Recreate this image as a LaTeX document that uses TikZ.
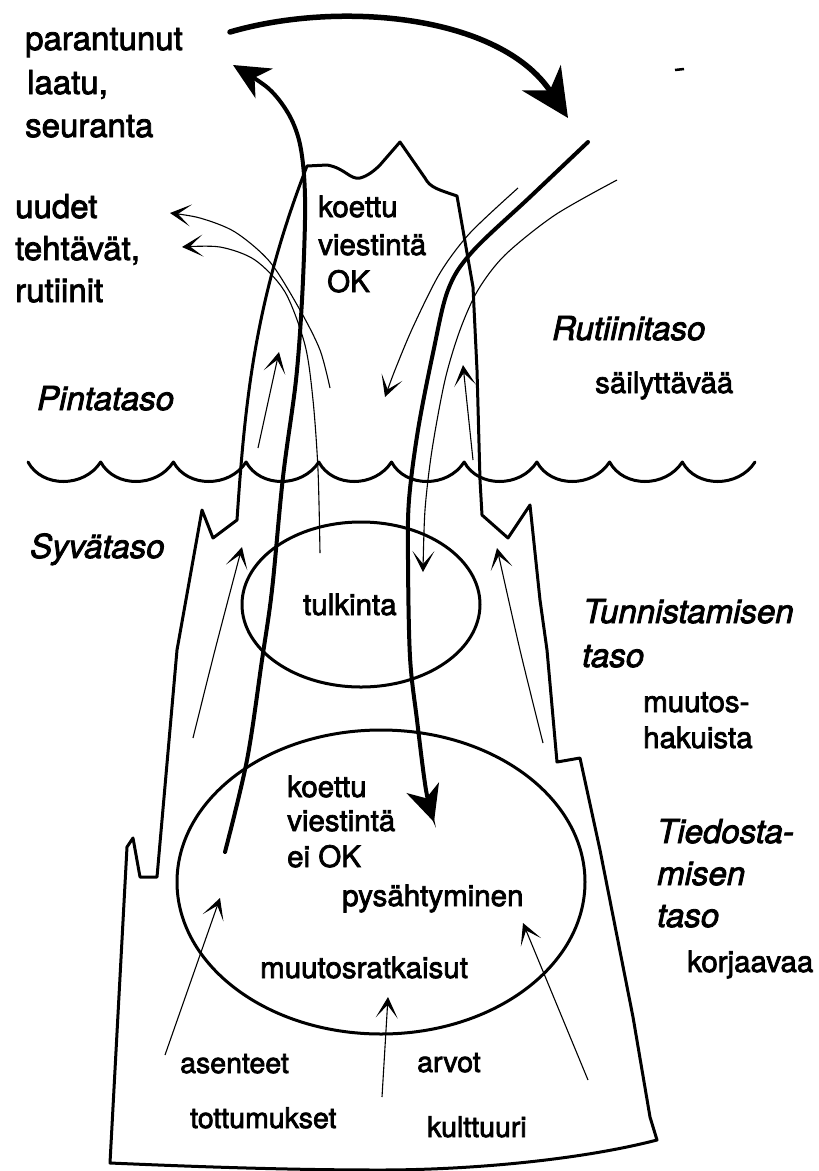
\documentclass[tikz,border=0pt]{standalone}
\usepackage{fontspec}
\setmainfont{TeX Gyre Heros}[UprightFeatures={FakeBold=2.5},ItalicFeatures={FakeBold=2.5}]
\usetikzlibrary{arrows.meta}
\begin{document}
\begin{tikzpicture}[x=1pt,y=-1pt,
  outline/.style={line width=3pt, line join=round, line cap=round},
  thinarr/.style={line width=1.1pt, -{Stealth[length=21pt,width=22pt,inset=13pt]}},
  thickarr/.style={line width=4pt, line cap=round, -{Stealth[length=36pt,width=34pt,inset=11pt]}},
  lbl/.style={inner sep=0pt, anchor=base west, font=\fontsize{33}{40}\selectfont},
  ilbl/.style={inner sep=0pt, anchor=base west, font=\fontsize{33}{40}\selectfont\itshape},
  mlbl/.style={inner sep=0pt, anchor=base west, font=\fontsize{29.5}{36}\selectfont},
  slbl/.style={inner sep=0pt, anchor=base west, font=\fontsize{28.5}{34}\selectfont}]
\useasboundingbox (0,0) rectangle (819,1171);

% iceberg outline
\draw[outline] (307,166) -- (327,165) .. controls (345,168) and (350,180) .. (360,178)
  .. controls (368,176) and (375,170) .. (380,165) -- (400,142) -- (425,178)
  .. controls (430,188) and (440,190) .. (457,196)
  -- (473,287) -- (477,370) -- (480,480) -- (482,515) -- (508,538) -- (530,505)
  -- (540,600) -- (547,650) -- (557,762) -- (580,758) -- (600,850) -- (633,1017)
  -- (650,1117) -- (657,1140)
  .. controls (580,1160) and (470,1170) .. (380,1170)
  .. controls (280,1170) and (180,1166) .. (110,1163)
  -- (127,847) -- (133,838) -- (140,877) -- (157,877) -- (177,650) -- (202,510)
  -- (213,538) -- (237,520) .. controls (245,400) and (255,300) .. (307,166) -- cycle;

% water line
\draw[outline] (28,462) \foreach \i in {0,...,9} {
  .. controls ({42+72.7*\i},488) and ({84+72.7*\i},488) .. ({28+72.7*(\i+1)},462) };

% ellipses
\coordinate (tulkc) at (361,604.5);
\coordinate (bigc) at (381,882);
\draw[outline] (tulkc) ellipse [x radius=119, y radius=82.5];
\draw[outline] (bigc) ellipse [x radius=204, y radius=152];

% top arc arrow
\coordinate (arcS) at (230,32);
\coordinate (arcE) at (568,118);
\draw[line width=5.5pt, line cap=round, -{Stealth[length=48pt,width=46pt,inset=15pt]}]
  (arcS) .. controls (340,0) and (500,15) .. (arcE);
\draw[line width=2.5pt] (675,70) -- (684,69);

% thick up arrow
\draw[thickarr] plot[smooth, tension=0.55] coordinates {(225,852) (247,760) (262,660) (272,590)
  (283,477) (296,380) (302,300) (305,220) (304,175) (299,140) (288,113) (268,88) (233,65)};
% thick down arrow
\draw[thickarr] plot[smooth, tension=0.55] coordinates {(588,142) (530,197) (472,252) (448,290)
  (433,353) (418,430) (409,500) (408,560) (410,657) (417,720) (426,790) (434,822)};

% thin arrows
\draw[thinarr] plot[smooth] coordinates {(330,388) (320,350) (300,310) (270,262) (235,232) (200,218) (170,213)};
\draw[thinarr] plot[smooth] coordinates {(320,553) (318,470) (313,400) (305,345) (285,292) (255,260) (220,247) (182,247)};
\draw[thinarr] (258,448) -- (279,352);
\draw[thinarr] plot[smooth] coordinates {(518,188) (470,233) (440,273) (413,327) (395,370) (385,397)};
\draw[thinarr] plot[smooth] coordinates {(617,180) (555,215) (505,255) (478,290) (460,330) (445,380) (432,450) (425,510) (423,572)};
\draw[thinarr] (473,460) -- (463,365);
\draw[thinarr] plot[smooth] coordinates {(193,738) (215,650) (242,547)};
\draw[thinarr] plot[smooth] coordinates {(543,743) (520,650) (497,548)};
\draw[thinarr] (165,1055) -- (220,898);
\draw[thinarr] (382,1097) -- (388,997);
\draw[thinarr] (588,1080) -- (523,923);

% labels
\node[lbl] (t1) at (25,50) {parantunut};
\node[lbl] (t2) at (27,94) {laatu,};
\node[lbl] (t3) at (25,137) {seuranta};
\node[lbl] (t4) at (15,218) {uudet};
\node[lbl] (t5) at (15,260) {tehtävät,};
\node[lbl] (t6) at (15,302) {rutiinit};
\node[ilbl] (t7) at (37,410) {Pintataso};
\node[ilbl] (t8) at (30,558) {Syvätaso};
\node[mlbl] (t9) at (318,217) {koettu};
\node[mlbl] (t10) at (318,255) {viestintä};
\node[mlbl] (t11) at (327,292) {OK};
\node[ilbl] (t12) at (552,340) {Rutiinitaso};
\node[mlbl] (t13) at (595,393) {säilyttävää};
\node[mlbl] (t14) at (303,615) {tulkinta};
\node[ilbl] (t15) at (583,623) {Tunnistamisen};
\node[ilbl] (t16) at (582,667) {taso};
\node[mlbl] (t17) at (643,712) {muutos-};
\node[mlbl] (t18) at (643,748) {hakuista};
\node[ilbl] (t19) at (657,843) {Tiedosta-};
\node[ilbl] (t20) at (657,885) {misen};
\node[ilbl] (t21) at (657,927) {taso};
\node[mlbl] (t22) at (687,972) {korjaavaa};
\node[mlbl] (t23) at (287,797) {koettu};
\node[mlbl] (t24) at (287,831) {viestintä};
\node[mlbl] (t25) at (287,867) {ei OK};
\node[mlbl] (t26) at (342,906) {pysähtyminen};
\node[mlbl] (t27) at (260,978) {muutosratkaisut};
\node[slbl] (t28) at (180,1073) {asenteet};
\node[slbl] (t29) at (190,1128) {tottumukset};
\node[slbl] (t30) at (417,1072) {arvot};
\node[slbl] (t31) at (427,1137) {kulttuuri};
\end{tikzpicture}
\end{document}
